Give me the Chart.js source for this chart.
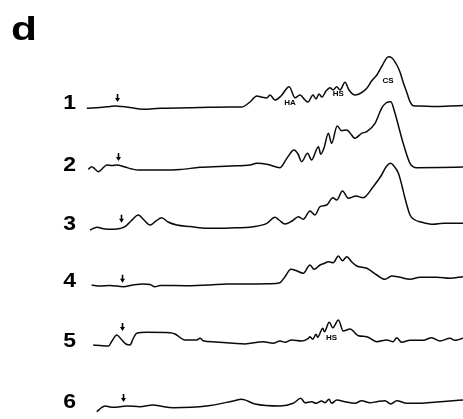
<!DOCTYPE html>
<html>
<head>
<meta charset="utf-8">
<script src="https://cdn.jsdelivr.net/npm/chart.js@4/dist/chart.umd.min.js"></script>
<style>
  html, body { margin: 0; padding: 0; background: #fff; }
  #chart { display: block; }
</style>
</head>
<body>
<canvas id="chart" width="463" height="419"></canvas>
<script>
// elution time (min) vs detector signal (arbitrary units, 0 = recorder baseline)
var trace1 = [[1.7,-1.3],[5,-0.5],[7.5,0.5],[8.75,1],[10.5,0.5],[12.5,-0.5],[15.75,-2.3],[20,-1.3],[30,-0.5],[37.5,0],
  [40.4,0],[42.5,5],[44.2,11],[45.25,10],[46.7,9],[47.5,12],[48.75,7],[50.25,11],[52.3,20.3],[53.75,9.3],[55,12],
  [56.25,7],[57,5],[58.25,12],[59,8],[59.75,13],[60.5,10],[61.5,16],[62.5,19.3],[63.25,17],[64.2,20.3],[65,17],
  [66.25,24.7],[67.25,17],[68.75,12],[70.25,14],[71.7,18.7],[72.9,26],[74.2,32],[75.5,41],[77.1,50.3],[78,49],
  [79.2,42],[80,35],[80.75,25.3],[81.75,14],[82.5,5.3],[83.3,1.3],[85,1],[88.75,0.5],[92.5,1],[95.75,1.5]];
var trace2 = [[2.1,-0.3],[2.9,2.3],[3.75,0],[4.6,-2.7],[5.5,0],[6.7,4],[8,3.5],[9.2,4],[11.25,2],[13,0],[14.6,-1],
  [20,-1],[25,-0.5],[30,1.7],[37.5,3],[42.5,4],[44.2,5.7],[47,4.5],[50,1.3],[51.75,11],[53.5,19],[54.5,15],
  [55.4,7.3],[56.9,15.7],[57.9,9],[59.6,22.3],[60.2,14.7],[61,21],[62.1,35.7],[62.9,25.7],[64.3,43],[65.4,38.3],
  [66.7,39],[67.5,36],[68.75,30.7],[70.4,35.7],[71.7,37.3],[73.75,45.7],[75.4,60.7],[76.5,66],[77.7,67.3],
  [78.75,55.7],[79.75,41],[80.8,25.7],[82.5,5.7],[84.2,1.3],[90,1.5],[95.75,2]];
var trace3 = [[2.5,-2],[4.2,0.7],[6.25,-1],[8.3,-1.3],[10,-0.5],[11.25,1.3],[12.75,7],[14.6,13],[16,8],[17.5,3],
  [19,7],[20.4,10.3],[22,6],[24.2,3],[27.5,1.5],[31.7,-0.3],[37.5,0],[43.3,1.3],[46.7,4.7],[48.75,10.7],[49.75,8],
  [51.25,4],[53,7],[54.6,11.3],[55.8,8.7],[57.5,17],[58.75,13],[60,21.3],[61.7,23],[63.2,30.3],[64.2,28],[65.6,37],
  [67.1,29.7],[69,32],[70.8,30.3],[73.3,41.3],[75.4,53],[76.5,61],[77.7,64.7],[78.5,62],[79.6,54.7],[80.5,42],
  [81.25,29.7],[82.5,13],[83.75,8],[85,6.3],[88.3,3.7],[90.8,4.7],[95.75,4.7]];
var trace4 = [[2.9,0],[5,-1],[7.5,-0.5],[10.8,-1.7],[13.25,0],[15.8,1],[17.5,0.5],[18.75,-1.7],[20,-0.5],[26.7,-0.7],
  [32.5,0],[36.7,1],[42.5,1],[47.5,1.3],[50,2.3],[51.25,8.3],[52.7,15.7],[54,14.5],[55.8,11.7],[57.5,20],[58.5,15.7],
  [60,20],[61,21.5],[62.1,23.3],[63.3,22.3],[64.6,29],[65.6,24.3],[66.7,28.3],[67.9,23.3],[69.2,19],[71.7,16.7],
  [74.2,10],[76.25,5.7],[77.9,9],[80,7.7],[82.5,5.7],[85,7.7],[89.2,7.7],[92.5,6.7],[95.75,8.3]];
var trace5 = [[3.3,0],[5,-0.5],[7.1,-1],[8,4],[9.2,10],[10.25,6],[11.5,1],[12.5,0],[13.25,6],[14.2,11.7],[16.7,12.7],
  [22.5,12.3],[23.75,11],[26.25,5],[29.2,5],[30,6.7],[30.8,4.3],[33.75,3],[38.3,1.7],[41.25,1],[45.8,3.3],[48.3,1.7],
  [50,4],[51.25,2.7],[52.9,5],[55.4,4],[57.1,6.7],[57.5,8.3],[58.2,5.7],[59,10.7],[59.4,7.7],[60.7,16.7],[61.1,13.3],
  [62.3,22.7],[63.2,17.3],[64.6,25],[65.8,14],[67.5,16],[69.6,9.3],[71.7,8.3],[74.2,3.3],[76.7,5],[78.3,3.3],
  [79.2,7.3],[80.4,2.7],[82.5,4.7],[85.8,4.7],[87.9,7.3],[90,4],[92.5,6.7],[93.75,4.7],[95.75,6.7]];
var trace6 = [[4.2,-5.7],[5.25,-2],[6.25,0],[8.3,-1.3],[11.7,0],[15,-0.7],[18.3,1],[20,0],[23.3,-1.7],[31.7,0],
  [38.3,5],[40.4,6.7],[43.75,2],[50,0],[53.3,2.7],[55.2,7.7],[56.25,3.3],[57.9,4.3],[59,2.7],[60.4,5],[61.25,3.3],
  [62.25,6.7],[62.9,2.7],[64.2,6],[66.25,4.3],[68.75,2.7],[70.4,5.3],[72.5,3.3],[74.2,4.3],[76.25,5.3],[77.7,2],
  [79.2,5.3],[81.7,2.7],[85,2.7],[89.2,4],[92.5,5],[95.75,6]];

var traceLabels = ['1', '2', '3', '4', '5', '6'];
var injectionTimes = [9.2, 9.5, 10.2, 10.4, 10.4, 10.8];
var peakNames = [
  { trace: 0, t: 52.5, level: 3.8, text: 'HA' },
  { trace: 0, t: 64.6, level: 13, text: 'HS' },
  { trace: 0, t: 77, level: 25.8, text: 'CS' },
  { trace: 4, t: 62.9, level: 7.5, text: 'HS' }
];

var traces = [trace1, trace2, trace3, trace4, trace5, trace6];

// layout: pixel row of each recorder baseline, 1 signal unit = 1 px
var baselinePx = [107, 169, 228, 285, 345, 406];
var plotHeight = 419;

var datasets = traces.map(function (tr, i) {
  return {
    label: 'trace ' + traceLabels[i],
    data: tr.map(function (p) { return { x: p[0], y: p[1] }; }),
    yAxisID: 'y' + i,
    borderColor: '#0a0a0a',
    borderWidth: 1.5,
    pointRadius: 0,
    cubicInterpolationMode: 'monotone',
    fill: false
  };
});

var scales = {
  x: { type: 'linear', min: 0, max: 95.75, display: false }
};
baselinePx.forEach(function (b, i) {
  scales['y' + i] = { type: 'linear', min: b - plotHeight, max: b, display: false };
});

function peakNear(tr, t) {
  var m = -Infinity;
  tr.forEach(function (p) {
    if (Math.abs(p[0] - t) <= 1.5 && p[1] > m) m = p[1];
  });
  return m === -Infinity ? 0 : m;
}

// wide, heavy lettering like the original figure
function wideText(ctx, text, x, y, stretch) {
  ctx.save();
  ctx.translate(x, y);
  ctx.scale(stretch, 1);
  ctx.fillText(text, 0, 0);
  ctx.restore();
}

var decorations = {
  id: 'decorations',
  afterDatasetsDraw: function (chart) {
    var ctx = chart.ctx;
    var x = chart.scales.x;
    ctx.save();
    ctx.fillStyle = '#000';
    ctx.strokeStyle = '#000';

    // panel letter
    ctx.font = 'bold 34px "Liberation Sans", Arial, sans-serif';
    ctx.textAlign = 'left';
    ctx.textBaseline = 'alphabetic';
    wideText(ctx, 'd', 11, 39.5, 1.25);

    traces.forEach(function (tr, i) {
      var y = chart.scales['y' + i];
      // trace number
      ctx.font = 'bold 20px "Liberation Sans", Arial, sans-serif';
      ctx.textAlign = 'right';
      wideText(ctx, traceLabels[i], 76, y.getPixelForValue(0) + 2, 1.15);

      // injection arrow
      var ax = Math.round(x.getPixelForValue(injectionTimes[i])) + 0.5;
      var tip = y.getPixelForValue(peakNear(tr, injectionTimes[i]) + 4);
      ctx.lineWidth = 1.6;
      ctx.beginPath();
      ctx.moveTo(ax, tip - 8);
      ctx.lineTo(ax, tip - 3);
      ctx.stroke();
      ctx.beginPath();
      ctx.moveTo(ax - 2.5, tip - 4);
      ctx.lineTo(ax + 2.5, tip - 4);
      ctx.lineTo(ax, tip);
      ctx.closePath();
      ctx.fill();
    });

    // peak names
    ctx.font = 'bold 8px "Liberation Sans", Arial, sans-serif';
    ctx.textAlign = 'center';
    ctx.textBaseline = 'middle';
    peakNames.forEach(function (p) {
      var y = chart.scales['y' + p.trace];
      ctx.fillText(p.text, x.getPixelForValue(p.t), y.getPixelForValue(p.level));
    });
    ctx.restore();
  }
};

var ctx = document.querySelector('#chart').getContext('2d');
var elutionChart = new Chart(ctx, {
  type: 'line',
  data: { datasets: datasets },
  options: {
    responsive: false,
    animation: false,
    layout: { padding: { left: 80, right: 0, top: 0, bottom: 0 } },
    scales: scales,
    plugins: {
      legend: { display: false },
      tooltip: { enabled: false }
    }
  },
  plugins: [decorations]
});
</script>
</body>
</html>
